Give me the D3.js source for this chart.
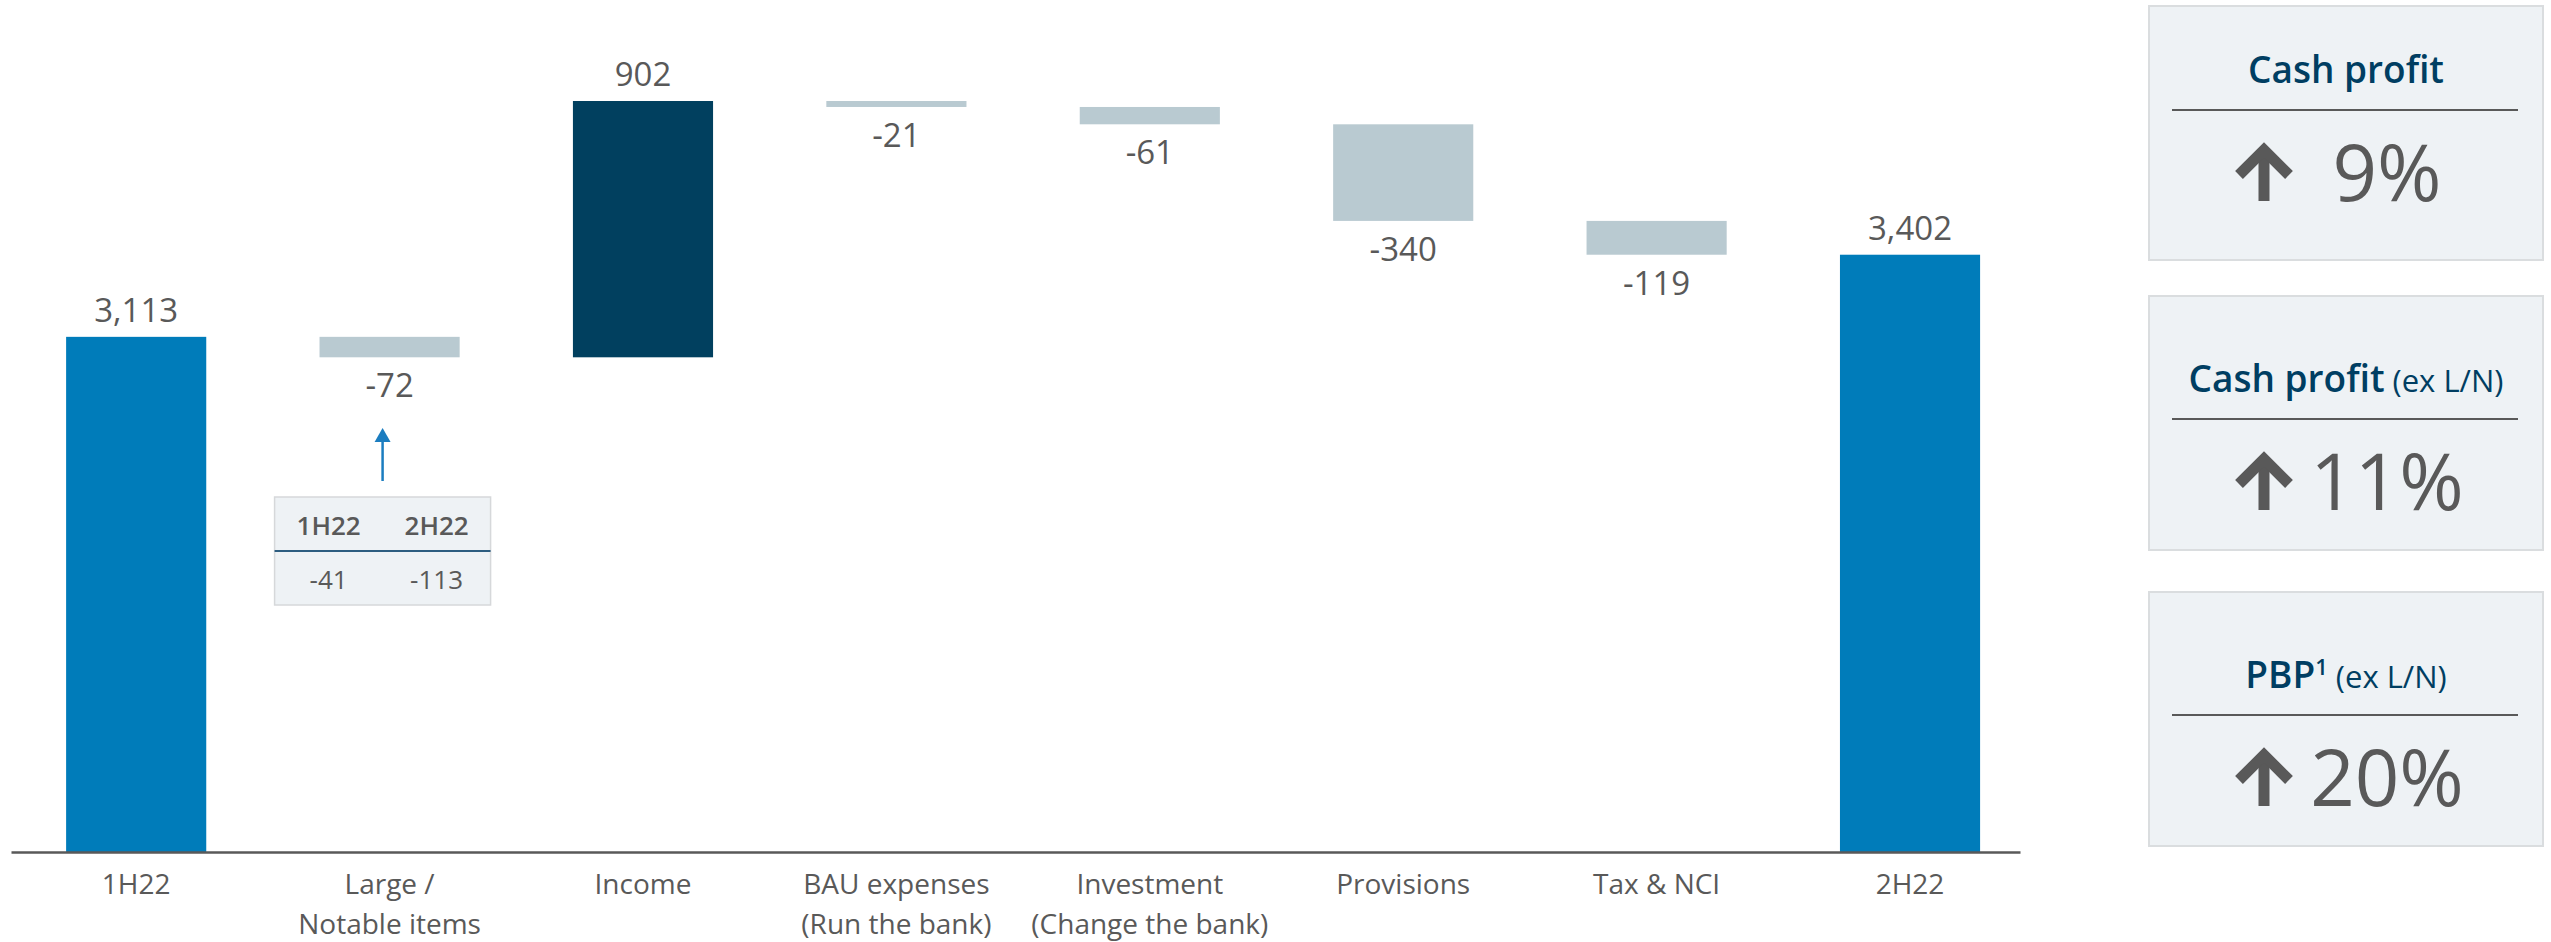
<!DOCTYPE html>
<html lang="en">
	<head>
		<meta charset="utf-8">
		<title>Cash profit bridge 1H22 to 2H22</title>
		<script src="https://cdn.jsdelivr.net/npm/d3@7"></script>
		<style type="text/css">
			body { margin: 0; background: #fff; }
			text { font-family: "Open Sans", "Noto Sans", sans-serif; }
			.valueLabel { fill: #595959; font-size: 33px; }
			.kpiBox { fill: #eef2f5; stroke: #dadddf; stroke-width: 2; }
		</style>
	</head>
	<body>
		<script type="text/javascript">

			//Data
			var categories = ["1H22", "Large /\nNotable items", "Income", "BAU expenses\n(Run the bank)",
				"Investment\n(Change the bank)", "Provisions", "Tax & NCI", "2H22"];
			var values = [3113, -72, 902, -21, -61, -340, -119, 3402];
			var isTotal = [true, false, false, false, false, false, false, true];

			//Large / notable items inset
			var insetHeaders = ["1H22", "2H22"];
			var insetValues = [-41, -113];

			//KPI boxes on the right
			var kpiTitles = ["Cash profit", "Cash profit", "PBP"];
			var kpiSup = ["", "", "1"];
			var kpiSuffix = ["", "(ex L/N)", "(ex L/N)"];
			var kpiValues = [9, 11, 20];

			var w = 2551, h = 942;
			var blue = "#007cba", navy = "#01405f", grey = "#b9cad1", textGrey = "#595959";

			var fmt = d3.formatLocale({decimal: ".", thousands: ",", grouping: [3], currency: ["", ""], minus: "-"}).format(",");

			//waterfall steps
			var running = 0;
			var steps = values.map(function(v, i) {
				var s;
				if (isTotal[i]) { s = {start: 1300, end: v}; running = v; }
				else { s = {start: running, end: running + v}; running += v; }
				s.cat = categories[i];
				s.value = v;
				s.total = isTotal[i];
				return s;
			});

			var svg = d3.select("body").append("svg")
						.attr("width", w)
						.attr("height", h);

			var xScale = d3.scaleBand()
						.domain(categories)
						.range([11, 2020])
						.paddingInner(0.447)
						.paddingOuter(0.1875)
						.align(0.58);

			//axis is cut: the bars start from 1,300 at the baseline
			var yScale = d3.scaleLinear()
						.domain([1300, 3943])
						.range([852, 101]);

			var bw = xScale.bandwidth();

			svg.selectAll("rect.bar")
			   .data(steps)
			   .enter()
			   .append("rect")
			   .attr("class", "bar")
			   .attr("x", function(d) { return xScale(d.cat); })
			   .attr("y", function(d) { return yScale(Math.max(d.start, d.end)); })
			   .attr("width", bw)
			   .attr("height", function(d) { return Math.abs(yScale(d.start) - yScale(d.end)); })
			   .attr("fill", function(d) { return d.total ? blue : (d.value > 0 ? navy : grey); });

			svg.selectAll("text.valueLabel")
			   .data(steps)
			   .enter()
			   .append("text")
			   .attr("class", "valueLabel")
			   .attr("text-anchor", "middle")
			   .attr("x", function(d) { return xScale(d.cat) + bw / 2; })
			   .attr("y", function(d) {
			   		return d.value > 0 ? yScale(Math.max(d.start, d.end)) - 15 : yScale(Math.min(d.start, d.end)) + 40;
			   })
			   .text(function(d) { return fmt(d.value); });

			//x axis
			var xAxis = d3.axisBottom(xScale).tickSize(0).tickSizeOuter(0);
			var gx = svg.append("g")
						.attr("transform", "translate(0,852)")
						.call(xAxis);
			gx.select(".domain").attr("stroke", textGrey).attr("stroke-width", 2.5);
			gx.selectAll(".tick text").each(function(d) {
				var t = d3.select(this).text(null).attr("dy", null).attr("y", null)
						.attr("fill", textGrey).style("font-size", "28px");
				d.split("\n").forEach(function(line, i) {
					t.append("tspan").attr("x", 0).attr("y", 42 + i * 40).text(line);
				});
			});

			//inset table under Large / Notable items
			var ic = xScale(categories[1]) + bw / 2 - 7;
			var inset = svg.append("g");
			inset.append("line")
				.attr("x1", ic).attr("x2", ic).attr("y1", 440).attr("y2", 481)
				.attr("stroke", "#1b7dc0").attr("stroke-width", 2.5);
			inset.append("path")
				.attr("d", "M" + ic + ",428 L" + (ic + 8) + ",442 L" + (ic - 8) + ",442 Z")
				.attr("fill", "#1b7dc0");
			inset.append("rect")
				.attr("x", ic - 108).attr("y", 497).attr("width", 216).attr("height", 108)
				.attr("fill", "#eef2f5").attr("stroke", "#d6d8da").attr("stroke-width", 1.5);
			inset.append("line")
				.attr("x1", ic - 108).attr("x2", ic + 108).attr("y1", 551).attr("y2", 551)
				.attr("stroke", "#2d5d80").attr("stroke-width", 2);
			inset.selectAll("text.head")
				.data(insetHeaders)
				.enter().append("text")
				.attr("x", function(d, i) { return ic + (i === 0 ? -54 : 54); })
				.attr("y", 535)
				.attr("text-anchor", "middle")
				.attr("fill", textGrey)
				.style("font-size", "26px").style("font-weight", 600)
				.text(function(d) { return d; });
			inset.selectAll("text.val")
				.data(insetValues)
				.enter().append("text")
				.attr("x", function(d, i) { return ic + (i === 0 ? -54 : 54); })
				.attr("y", 589)
				.attr("text-anchor", "middle")
				.attr("fill", textGrey)
				.style("font-size", "26px")
				.text(function(d) { return fmt(d); });

			//KPI boxes
			var boxTop = [6, 296, 592];
			var contentShift = [-19, 0, 0];
			var kpi = svg.selectAll("g.kpi")
						.data(kpiValues)
						.enter().append("g")
						.attr("class", "kpi")
						.attr("transform", function(d, i) { return "translate(2149," + boxTop[i] + ")"; });

			kpi.append("rect").attr("class", "kpiBox")
				.attr("width", 394).attr("height", 254);

			kpi.each(function(d, i) {
				var g = d3.select(this);
				var s = contentShift[i];
				var title = g.append("text")
					.attr("x", 197).attr("y", 96 + s)
					.attr("text-anchor", "middle")
					.attr("fill", "#003e62");
				title.append("tspan").style("font-size", "37px").style("font-weight", 600).text(kpiTitles[i]);
				if (kpiSup[i]) {
					title.append("tspan").attr("dy", -13).style("font-size", "22px").style("font-weight", 600).text(kpiSup[i]);
				}
				if (kpiSuffix[i]) {
					title.append("tspan").attr("dy", kpiSup[i] ? 13 : 0).style("font-size", "31px").text(" " + kpiSuffix[i]);
				}
				g.append("line")
					.attr("x1", 23).attr("x2", 369)
					.attr("y1", 123 + s).attr("y2", 123 + s)
					.attr("stroke", textGrey).attr("stroke-width", 2);

				//up arrow
				var cx = 115, t = 155 + s, b = 214 + s;
				g.append("line")
					.attr("x1", cx).attr("x2", cx).attr("y1", t + 8).attr("y2", b)
					.attr("stroke", textGrey).attr("stroke-width", 11);
				g.append("path")
					.attr("d", "M" + (cx - 25) + "," + (t + 33) + " L" + cx + "," + (t + 8) + " L" + (cx + 25) + "," + (t + 33))
					.attr("fill", "none")
					.attr("stroke", textGrey).attr("stroke-width", 11)
					.attr("stroke-linejoin", "miter");

				g.append("text")
					.attr("x", 238).attr("y", 214 + s)
					.attr("text-anchor", "middle")
					.attr("fill", textGrey)
					.style("font-size", "78px")
					.text(d + "%");
			});

		</script>
	</body>
</html>
